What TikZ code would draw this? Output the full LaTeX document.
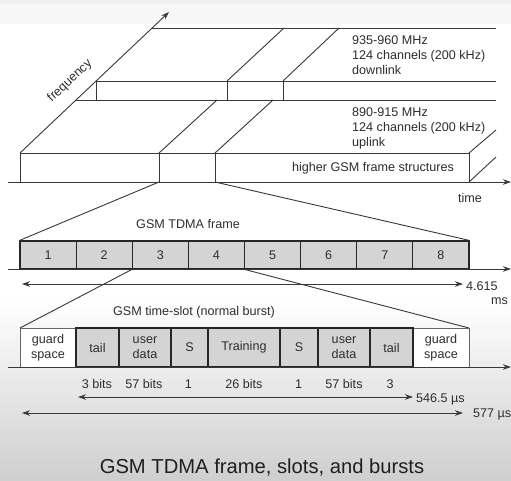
\documentclass[tikz,border=0pt]{standalone}
\usepackage{fontspec}
\setmainfont{Liberation Sans}
\usetikzlibrary{arrows.meta}
\definecolor{txt}{HTML}{2E2E2E}
\definecolor{slotgrey}{HTML}{D4D4D4}
\begin{document}
\begin{tikzpicture}[x=1pt,y=-1pt,
  ln/.style={draw=black!78, line width=0.9pt},
  tipped/.style={ln,-{Stealth[length=8pt,width=5.5pt]}},
  dbl/.style={ln,{Stealth[length=8pt,width=5.5pt]}-{Stealth[length=8pt,width=5.5pt]}},
  lbl/.style={font=\fontsize{12.6}{15}\selectfont, text=txt, inner sep=0pt},
  slotbox/.style={draw=black!85, line width=1.1pt, fill=slotgrey, inner sep=0pt, lbl, minimum height=28pt},
  burstbox/.style={draw=black!85, line width=1.1pt, fill=slotgrey},
  guardbox/.style={draw=black!60, line width=0.9pt, fill=white}
]
% background
\useasboundingbox (0,0) rectangle (511,480);
\fill[white] (0,0) rectangle (511,480);
\fill[black!6] (0,0) rectangle (511,4);
\fill[black!3] (0,4) rectangle (511,24);
\shade[top color=white, bottom color=black!19] (0,300) rectangle (511,480);

% ---------- frequency / time section ----------
\coordinate (f0) at (20,153);
\coordinate (f1) at (169,12);
\coordinate (tA) at (8,182);
\coordinate (tB) at (511,182);
\coordinate (u1) at (159,153);
\coordinate (u2) at (215,153);
\coordinate (uR) at (469,153);
\coordinate (u1b) at (159,182);
\coordinate (u2b) at (215,182);
\coordinate (uRb) at (469,182);
\coordinate (f0b) at (20,182);

\draw[tipped] (f0) -- (f1);
\draw[tipped] (tA) -- (tB);
% uplink box
\draw[ln] (f0b) -- (f0) -- (uR) -- (uRb);
\draw[ln] (u1) -- (u1b);
\draw[ln] (u2) -- (u2b);
% uplink plane
\draw[ln] (76,100) -- (496,100);
\draw[ln] (u1) -- (217,100);
\draw[ln] (u2) -- (273,100);
\draw[ln] (uR) -- (496,130);
\draw[ln] (uRb) -- (496,157);
% downlink box and plane
\draw[ln] (96.3,81) -- (496,81);
\draw[ln] (96.3,81) -- (96.3,100);
\draw[ln] (227,81) -- (227,100);
\draw[ln] (283,81) -- (283,100);
\draw[ln] (227,81) -- (284,28);
\draw[ln] (283,81) -- (339,28);
\draw[ln] (152,28) -- (496,28);

\node[lbl, anchor=west, align=left] (down) at (352,55) {935-960 MHz\\124 channels (200 kHz)\\downlink};
\node[lbl, anchor=west, align=left] (up) at (352,128) {890-915 MHz\\124 channels (200 kHz)\\uplink};
\node[lbl] (higher) at (373,168) {higher GSM frame structures};
\node[lbl] (time) at (470,198) {time};
\node[lbl, rotate=43] (freq) at (70,81) {frequency};

% ---------- TDMA frame ----------
\node[lbl] (frametitle) at (188,224) {GSM TDMA frame};
\foreach \i in {1,...,8} {
  \node[slotbox, minimum width=56.125pt] (s\i) at ({20+56.125*(\i-0.5)},255) {\i};
}
\draw[ln] (u1b) -- (s1.north west);
\draw[ln] (u2b) -- (s8.north east);
\coordinate (fA) at (8,269);
\coordinate (fB) at (511,269);
\draw[tipped] (fA) -- (fB);
\coordinate (dA) at (22,284);
\coordinate (dB) at (463,284);
\draw[dbl] (dA) -- (dB);
\node[lbl, anchor=west] (d1) at (466,286) {4.615};
\node[lbl, anchor=east] (d2) at (508,301) {ms};

% ---------- time slot ----------
\node[lbl] (slottitle) at (194,312) {GSM time-slot (normal burst)};
\coordinate (b0) at (20,328);
\coordinate (b9) at (469,328);
\draw[ln] (s3.south west) -- (b0);
\draw[ln] (s4.south east) -- (b9);

\draw[guardbox] (20,328) rectangle (76,367);
\draw[guardbox] (413,328) rectangle (469,367);
\foreach \a/\b in {76/119,119/171,171/208,208/280,280/318,318/370,370/413} {
  \draw[burstbox] (\a,328) rectangle (\b,367);
}
\node[lbl, align=center] (g1) at (48,347.5) {guard\\space};
\node[lbl] (tl1) at (97.5,347.5) {tail};
\node[lbl, align=center] (ud1) at (145,347.5) {user\\data};
\node[lbl] (sa) at (189.5,347.5) {S};
\node[lbl] (tr) at (244,347.5) {Training};
\node[lbl] (sb) at (299,347.5) {S};
\node[lbl, align=center] (ud2) at (344,347.5) {user\\data};
\node[lbl] (tl2) at (391.5,347.5) {tail};
\node[lbl, align=center] (g2) at (441,347.5) {guard\\space};

\coordinate (bA) at (8,367);
\coordinate (bB) at (511,367);
\draw[tipped] (bA) -- (bB);

\node[lbl] (n1) at (97,384) {3 bits};
\node[lbl] (n2) at (144,384) {57 bits};
\node[lbl] (n3) at (188.5,384) {1};
\node[lbl] (n4) at (244,384) {26 bits};
\node[lbl] (n5) at (298.5,384) {1};
\node[lbl] (n6) at (344,384) {57 bits};
\node[lbl] (n7) at (390,384) {3};

\coordinate (eA) at (78,397);
\coordinate (eB) at (413,397);
\draw[dbl] (eA) -- (eB);
\node[lbl, anchor=west] (e1) at (416,399) {546.5 µs};
\coordinate (gA) at (22,413);
\coordinate (gB) at (463,413);
\draw[dbl] (gA) -- (gB);
\node[lbl, anchor=west] (g3) at (473,414) {577 µs};

% ---------- caption ----------
\node[font=\fontsize{20.2}{24}\selectfont, text=black!88, inner sep=0pt] (caption) at (262,467) {GSM TDMA frame, slots, and bursts};
\end{tikzpicture}
\end{document}
